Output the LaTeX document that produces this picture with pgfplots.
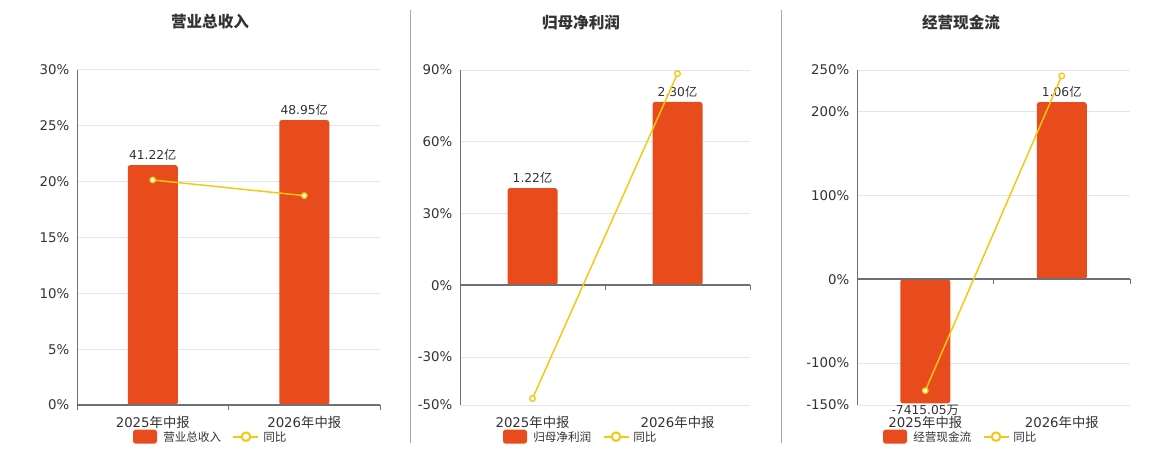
\documentclass[border=0pt]{standalone}
\usepackage{pgfplots}
\pgfplotsset{compat=1.18}
\usepackage{fontspec}
\setmainfont{DejaVu Sans}
\newfontfamily\cjk{Noto Sans CJK SC}
\definecolor{barc}{HTML}{E84C1C}
\definecolor{linec}{HTML}{F3C80F}
\definecolor{gridc}{HTML}{E0E6F1}
\definecolor{axc}{HTML}{6E7079}
\definecolor{txt}{HTML}{333333}
\definecolor{sepc}{HTML}{A8A8A8}
\pgfplotsset{
  panel/.style={scale only axis, height=251.25pt, xmin=-0.5, xmax=1.5, anchor=south west, clip=false},
  frame/.style={panel, axis y line=left, axis x line=bottom,
    axis line style={-, draw=axc, line width=0.75pt}, x axis line style={draw=none},
    ymajorgrids, grid style={gridc, line width=0.75pt},
    xtick={0,1}, xticklabels={{2025{\cjk 年中报}},{2026{\cjk 年中报}}},
    major tick style={draw=none},
    yticklabel style={font=\fontsize{10}{12}\selectfont, text=txt, inner sep=0pt, xshift=-3.5pt},
    xticklabel style={font=\fontsize{10}{12}\selectfont, text=txt, inner sep=0pt, anchor=north, yshift=-6pt}},
  hidden/.style={panel, hide axis},
  barplot/.style={ybar, bar width=37.5pt, bar shift=0pt, fill=barc, draw=none, rounded corners=2pt,
    nodes near coords, point meta=explicit symbolic,
    every node near coord/.append style={font=\fontsize{9.2}{11}\selectfont, text=txt, inner sep=3.5pt, rounded corners=0pt}},
  lineplot/.style={linec, line width=1.1pt, mark=*, mark size=2.1pt, mark options={fill=white, draw=linec, line width=1pt}},
}
\newcommand{\zeroline}{%
  \draw[axc, line width=1.5pt] (axis cs:-0.5,0) -- (axis cs:1.5,0);
  \draw[axc, line width=0.75pt] (axis cs:-0.5,0) -- ++(0pt,-3.75pt);
  \draw[axc, line width=0.75pt] (axis cs:0.5,0) -- ++(0pt,-3.75pt);
  \draw[axc, line width=0.75pt] (axis cs:1.5,0) -- ++(0pt,-3.75pt);}
\begin{document}
\begin{tikzpicture}
\path[use as bounding box] (0,0) rectangle (870pt,337.5pt);
% separators
\draw[sepc, line width=0.75pt] (307.9pt,5.25pt) -- (307.9pt,330pt);
\draw[sepc, line width=0.75pt] (585.75pt,5.25pt) -- (585.75pt,330pt);
% titles
\node[font=\cjk\bfseries\fontsize{11.7}{14}\selectfont, text=txt] at (157.5pt,321pt) {营业总收入};
\node[font=\cjk\bfseries\fontsize{11.7}{14}\selectfont, text=txt] at (435.75pt,320.5pt) {归母净利润};
\node[font=\cjk\bfseries\fontsize{11.7}{14}\selectfont, text=txt] at (720.75pt,320.5pt) {经营现金流};

% ---------- Panel 1 ----------
\begin{axis}[frame, at={(57.75pt,33.75pt)}, width=227.25pt, ymin=0, ymax=30,
  ytick={0,5,10,15,20,25,30}, yticklabels={0\%,5\%,10\%,15\%,20\%,25\%,30\%}]
\end{axis}
\begin{axis}[hidden, at={(57.75pt,33.75pt)}, width=227.25pt, ymin=0, ymax=57.54]
\addplot[barplot] coordinates {(0,41.22) [41.22{\cjk 亿}] (1,48.95) [48.95{\cjk 亿}]};
\end{axis}
\begin{axis}[hidden, at={(57.75pt,33.75pt)}, width=227.25pt, ymin=0, ymax=30]
\zeroline
\addplot[lineplot] coordinates {(0,20.15) (1,18.75)};
\end{axis}

% ---------- Panel 2 ----------
\begin{axis}[frame, at={(345pt,33.75pt)}, width=217.5pt, ymin=-50, ymax=90,
  ytick={-50,-30,0,30,60,90}, yticklabels={-50\%,-30\%,0\%,30\%,60\%,90\%}]
\end{axis}
\begin{axis}[hidden, at={(345pt,33.75pt)}, width=217.5pt, ymin=-1.5, ymax=2.70]
\addplot[barplot] coordinates {(0,1.22) [1.22{\cjk 亿}] (1,2.30) [2.30{\cjk 亿}]};
\end{axis}
\begin{axis}[hidden, at={(345pt,33.75pt)}, width=217.5pt, ymin=-50, ymax=90]
\zeroline
\addplot[lineplot] coordinates {(0,-47.3) (1,88.5)};
\end{axis}

% ---------- Panel 3 ----------
\begin{axis}[frame, at={(642.75pt,33.75pt)}, width=204.75pt, ymin=-150, ymax=250,
  ytick={-150,-100,0,100,200,250}, yticklabels={-150\%,-100\%,0\%,100\%,200\%,250\%}]
\end{axis}
\begin{axis}[hidden, at={(642.75pt,33.75pt)}, width=204.75pt, ymin=-0.751, ymax=1.252]
\addplot[barplot, every node near coord/.append style={anchor=north, inner sep=0.8pt}] coordinates {(0,-0.7415) [-7415.05{\cjk 万}]};
\addplot[barplot] coordinates {(1,1.06) [1.06{\cjk 亿}]};
\end{axis}
\begin{axis}[hidden, at={(642.75pt,33.75pt)}, width=204.75pt, ymin=-150, ymax=250]
\zeroline
\addplot[lineplot] coordinates {(0,-132.9) (1,242.95)};
\end{axis}

% ---------- legends ----------
\foreach \rx/\tx/\lx/\cx/\sx/\name in {99.75/122.25/174.75/184.5/197.25/营业总收入, 377.25/399.75/453/462/474.75/归母净利润, 662.25/684.75/738/747/759.75/经营现金流}{
  \fill[barc, rounded corners=2pt] (\rx pt,4.75pt) rectangle ({\rx pt+18pt},15.25pt);
  \node[anchor=west, inner sep=0pt, font=\cjk\fontsize{8.7}{10}\selectfont, text=txt] at ({\tx pt},10pt) {\name};
  \draw[linec, line width=1.5pt] (\lx pt,10pt) -- ({\lx pt+18.75pt},10pt);
  \draw[linec, line width=1.5pt, fill=white] (\cx pt,10pt) circle (3.2pt);
  \node[anchor=west, inner sep=0pt, font=\cjk\fontsize{8.7}{10}\selectfont, text=txt] at ({\sx pt},10pt) {同比};
}
\end{tikzpicture}
\end{document}
